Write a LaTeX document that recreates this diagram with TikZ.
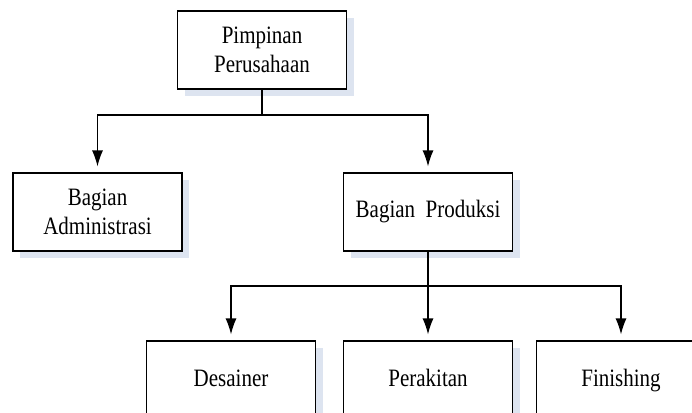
\documentclass[tikz,border=0pt]{standalone}
\usepackage{fontspec}
\setmainfont{Liberation Serif}[FakeStretch=0.84]
\usetikzlibrary{arrows.meta,shadows}
\definecolor{shadowblue}{RGB}{221,228,240}
\tikzset{
  unit/.style={draw,line width=1.2pt,fill=white,minimum width=169pt,minimum height=78pt,
    align=center,font=\fontsize{25}{29}\selectfont,
    drop shadow={shadow xshift=7pt,shadow yshift=-7pt,fill=shadowblue,opacity=1}},
  leaf/.style={unit,text height=17pt,text depth=5pt},
  >={Latex[length=16pt,width=11pt]}
}
\begin{document}
\begin{tikzpicture}[x=1pt,y=-1pt]
\clip (0,0) rectangle (692,412);
\useasboundingbox (0,0) rectangle (692,412);
\node[unit] (pimpinan) at (262,50) {Pimpinan\\Perusahaan};
\node[unit] (admin) at (97.5,212) {Bagian\\Administrasi};
\node[unit] (produksi) at (428,212) {Bagian~ Produksi};
\node[leaf] (desainer) at (231,380) {Desainer};
\node[leaf] (perakitan) at (428,380) {Perakitan};
\node[leaf] (finishing) at (621,380) {Finishing};
\coordinate (split1) at (262,115);
\coordinate (split2) at (428,286);
\draw[line width=1.2pt] (pimpinan.south) -- (split1);
\draw[line width=1.2pt] [->,shorten >=6pt] (split1) -| (admin.north);
\draw[line width=1.2pt] [->,shorten >=6pt] (split1) -| (produksi.north);
\draw[line width=1.2pt] [->,shorten >=6pt] (produksi.south) -- (perakitan.north);
\draw[line width=1.2pt] [->,shorten >=6pt] (split2) -| (desainer.north);
\draw[line width=1.2pt] [->,shorten >=6pt] (split2) -| (finishing.north);
\end{tikzpicture}
\end{document}
